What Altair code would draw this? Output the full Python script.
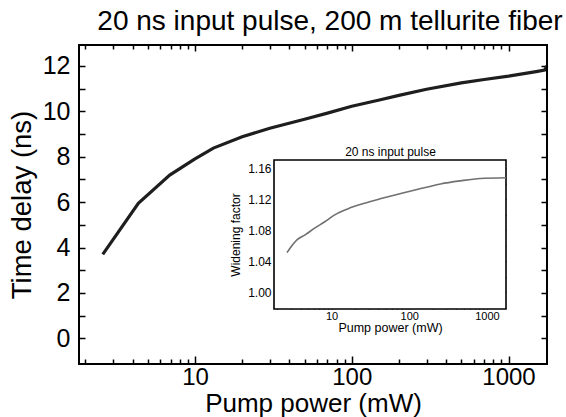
import altair as alt
import pandas as pd

# ---------------- data ----------------
main_power = [2.58, 4.35, 6.9, 10, 13.1, 20, 30, 50, 70, 100, 150, 200, 300, 500, 700, 1000, 1500, 1700, 1760]
main_delay = [3.70, 5.95, 7.19, 7.9, 8.38, 8.88, 9.25, 9.65, 9.92, 10.22, 10.5, 10.7, 10.97, 11.25, 11.4, 11.55, 11.75, 11.82, 12.0]

inset_power = [2.67, 2.94, 3.59, 4.57, 6.14, 8.2, 11.0, 16.4, 26.7, 43.5, 78, 141, 253, 456, 820, 1760]
inset_factor = [1.051, 1.057, 1.0675, 1.074, 1.083, 1.091, 1.100, 1.108, 1.115, 1.121, 1.1277, 1.134, 1.140, 1.144, 1.147, 1.148]

x_domain = [1.82, 1760]
y_domain = [-1.13, 12.92]
inset_x_domain = [1.82, 1760]
inset_y_domain = [0.978, 1.171]

x_major = [10, 100, 1000]
x_minor = [2, 3, 4, 5, 6, 7, 8, 9, 20, 30, 40, 50, 60, 70, 80, 90, 200, 300, 400, 500, 600, 700, 800, 900]
y_ticks = list(range(0, 13))
inset_y_ticks = [1.00, 1.02, 1.04, 1.06, 1.08, 1.10, 1.12, 1.14, 1.16]

title_text = "20 ns input pulse, 200 m tellurite fiber"
x_title = "Pump power (mW)"
y_title = "Time delay (ns)"
inset_title = "20 ns input pulse"
inset_y_title = "Widening factor"

df_main = pd.DataFrame({"power": main_power, "delay": main_delay})
df_inset = pd.DataFrame({"power": inset_power, "factor": inset_factor})
df_box = pd.DataFrame({"x0": [inset_x_domain[0]], "x1": [inset_x_domain[1]],
                       "y0": [inset_y_domain[0]], "y1": [inset_y_domain[1]]})
df_frame = pd.DataFrame({"x0": [x_domain[0]], "x1": [x_domain[1]],
                         "y0": [y_domain[0]], "y1": [y_domain[1]]})

# ---------------- layout ----------------
W, H = 468, 319
PAD_L, PAD_T = 79, 45
IX0, IX1 = 195, 427      # inset left/right in plot coords
IY0, IY1 = 115, 264      # inset top/bottom in plot coords
FONT = "Liberation Sans"

def axis(orient, tick, offset, values, labels=False, **kw):
    return alt.Axis(orient=orient, tickSize=tick, offset=offset, values=values,
                    labels=labels, domain=False, grid=False, tickColor="black",
                    labelColor="black", titleColor="black", labelFont=FONT,
                    titleFont=FONT, titleFontWeight="normal", labelOverlap=False,
                    labelFlush=False, **kw)

xs = alt.Scale(type="log", domain=x_domain, nice=False)
ys = alt.Scale(domain=y_domain, nice=False, zero=False)
ixs = alt.Scale(type="log", domain=inset_x_domain, nice=False, range=[IX0, IX1])
iys = alt.Scale(domain=inset_y_domain, nice=False, zero=False, range=[IY1, IY0])

# ---------------- main plot ----------------
frame = alt.Chart(df_frame).mark_rect(fill=None, stroke="black", strokeWidth=2).encode(
    x=alt.X("x0:Q", scale=xs, axis=axis("top", 4, -4, x_minor, tickWidth=1.5, title=None)),
    x2="x1:Q",
    y=alt.Y("y0:Q", scale=ys, axis=None),
    y2="y1:Q",
)
mb = alt.Chart(df_main)
m1 = mb.mark_line(color="#1e1e1e", strokeWidth=3.2).encode(
    x=alt.X("power:Q", scale=xs, axis=axis("bottom", 8, -8, x_major, labels=True, format="d",
                                             labelFontSize=24, labelPadding=1, tickWidth=1.5,
                                             title=x_title, titleFontSize=26, titlePadding=1)),
    y=alt.Y("delay:Q", scale=ys, axis=axis("left", 6, -6, y_ticks, labels=True,
                                            labelExpr="datum.value % 2 == 0 ? datum.label : ''",
                                            labelFontSize=25, labelPadding=9, tickWidth=1.5,
                                            title=y_title, titleFontSize=27.5, titlePadding=6)),
)
m2 = mb.mark_line(opacity=0).encode(
    x=alt.X("power:Q", scale=xs, axis=axis("bottom", 5, -5, x_minor, tickWidth=1.5, title=None)),
    y=alt.Y("delay:Q", scale=ys, axis=axis("right", 6, -6, y_ticks, tickWidth=1.5, title=None)),
)
m3 = mb.mark_line(opacity=0).encode(
    x=alt.X("power:Q", scale=xs, axis=axis("top", 6, -6, x_major, tickWidth=1.5, title=None)),
    y=alt.Y("delay:Q", scale=ys, axis=None),
)
main_group = alt.layer(m1, m2, m3, frame).resolve_axis(x="independent", y="independent")

# ---------------- inset ----------------
box = alt.Chart(df_box).mark_rect(fill="white", stroke="black", strokeWidth=1.6).encode(
    x=alt.X("x0:Q", scale=ixs, axis=axis("bottom", 5, (IY1 - 5) - H, x_major, labels=True, format="d",
                                           labelFontSize=11, labelPadding=1, tickWidth=1.2,
                                           title=x_title, titleFontSize=12.5, titlePadding=0)),
    x2="x1:Q",
    y=alt.Y("y0:Q", scale=iys, axis=axis("left", 4, -(IX0 + 4), inset_y_ticks, labels=True,
                                          labelExpr="round(datum.value*100) % 4 == 0 ? format(datum.value, '.2f') : ''",
                                          labelFontSize=12, labelPadding=3, tickWidth=1.2,
                                          title=inset_y_title, titleFontSize=12, titlePadding=5)),
    y2="y1:Q",
)
ib = alt.Chart(df_inset)
i1 = ib.mark_line(color="#707070", strokeWidth=1.6, interpolate="monotone").encode(
    x=alt.X("power:Q", scale=ixs, axis=axis("bottom", 3, (IY1 - 3) - H, x_minor, tickWidth=1.2, title=None)),
    y=alt.Y("factor:Q", scale=iys, axis=axis("right", 4, (IX1 - 4) - W, inset_y_ticks, tickWidth=1.2, title=None)),
)
i2 = ib.mark_line(opacity=0).encode(
    x=alt.X("power:Q", scale=ixs, axis=axis("top", 5, -(IY0 + 5), x_major, tickWidth=1.2,
                                            title=inset_title, titleFontSize=12, titlePadding=1)),
    y=alt.Y("factor:Q", scale=iys, axis=None),
)
i3 = ib.mark_line(opacity=0).encode(
    x=alt.X("power:Q", scale=ixs, axis=axis("top", 3, -(IY0 + 3), x_minor, tickWidth=1.2, title=None)),
    y=alt.Y("factor:Q", scale=iys, axis=None),
)
inset_group = alt.layer(box, i1, i2, i3).resolve_axis(x="independent", y="independent")

chart = alt.layer(main_group, inset_group).resolve_scale(
    x="independent", y="independent"
).properties(
    width=W, height=H,
    background="white",
    autosize=alt.AutoSizeParams(type="none"),
    padding={"left": PAD_L, "top": PAD_T, "right": 566 - PAD_L - W, "bottom": 417 - PAD_T - H},
    title=alt.TitleParams(title_text, font=FONT, fontSize=28, fontWeight="normal",
                          color="black", anchor="middle", dx=17, offset=8),
).configure_view(stroke="black", strokeWidth=2)

chart.save("out.html", embed_options={"renderer": "svg", "actions": False})
